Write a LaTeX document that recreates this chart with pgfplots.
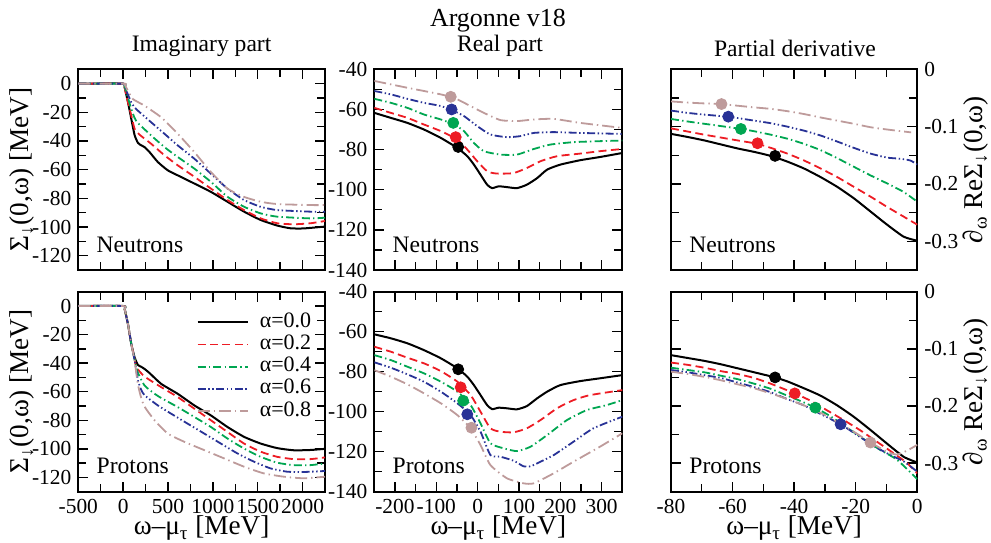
\documentclass[border=0pt]{standalone}
\usepackage{pgfplots}
\pgfplotsset{compat=1.18}
\usepackage{fontspec}
\setmainfont{Liberation Serif}
\definecolor{cR}{RGB}{237,28,36}
\definecolor{cG}{RGB}{0,166,81}
\definecolor{cB}{RGB}{40,50,150}
\definecolor{cP}{RGB}{190,155,155}
\newcommand{\lblfont}{\fontsize{13.6}{15}\selectfont}
\pgfplotsset{
  base/.style={scale only axis, axis line style={line width=0.9pt},
    tick style={line width=0.7pt, black}, major tick length=5pt, minor tick length=4pt,
    tick align=inside, xtick pos=both, ytick pos=both,
    ticklabel style={font=\fontsize{10.7}{12}\selectfont},
    xticklabel style={inner sep=0pt}, xticklabel shift=3.6pt,
    /pgf/number format/assume math mode=true, /pgf/number format/1000 sep={},
    minor x tick num=1, minor y tick num=1},
  imag/.style={base, width=123.35pt, xmin=-500, xmax=2250, ymin=-130, ymax=10,
    xtick={-500,0,500,1000,1500,2000}, ytick={-120,-100,-80,-60,-40,-20,0},
    every axis y label/.style={at={(axis description cs:-0.228,0.5)}, rotate=90, anchor=center, font=\lblfont},
    ylabel={Σ\textsubscript{↓}(0,ω) [MeV]}},
  real/.style={base, width=124pt, xmin=-250, xmax=350, ymin=-140, ymax=-40,
    xtick={-200,-100,0,100,200,300}, ytick={-140,-120,-100,-80,-60,-40}},
  deriv/.style={base, width=123.15pt, xmin=-80, xmax=0, ymin=-0.35, ymax=0,
    xtick={-80,-60,-40,-20,0}, ytick={-0.3,-0.2,-0.1,0}, yticklabel pos=right,
    /pgf/number format/fixed, /pgf/number format/precision=1,
    every axis y label/.style={at={(axis description cs:1.236,0.5)}, rotate=90, anchor=center, font=\lblfont},
    ylabel={∂\textsubscript{ω} ReΣ\textsubscript{↓}(0,ω)}},
  toprow/.style={height=100.35pt, xticklabel=\empty},
  botrow/.style={height=100pt,
    every axis x label/.style={at={(axis description cs:0.5,-0.216)}, anchor=base, inner sep=0pt, font=\lblfont},
    xlabel={ω–μ\textsubscript{τ} [MeV]}},
  s0/.style={black, line width=1pt, smooth, tension=0.35},
  s2/.style={cR, line width=0.9pt, dash pattern=on 4pt off 2.2pt, smooth, tension=0.35},
  s4/.style={cG, line width=0.9pt, dash pattern=on 4pt off 1.6pt on 0.7pt off 1.6pt, smooth, tension=0.35},
  s6/.style={cB, line width=0.9pt, dash pattern=on 4pt off 1.3pt on 0.7pt off 1.3pt on 0.7pt off 1.3pt, smooth, tension=0.35},
  s8/.style={cP, line width=0.9pt, dash pattern=on 6pt off 2pt on 0.7pt off 2pt, smooth, tension=0.35},
  dot/.style={only marks, mark=*, mark size=2.75pt, forget plot, mark options={draw=#1, fill=#1}},
}
\newcommand{\lbl}[1]{\node[anchor=base west, inner sep=0pt, font=\fontsize{11.8}{14}\selectfont, xshift=9pt, yshift=9pt] at (rel axis cs:0,0) {#1};}
\begin{document}
\begin{tikzpicture}
\useasboundingbox (0pt,0pt) rectangle (495.5pt,-271pt);
\node[anchor=base, inner sep=0pt, font=\fontsize{13}{15}\selectfont] at (249pt,-13.3pt) {Argonne v18};
\node[anchor=base, inner sep=0pt, font=\fontsize{11.8}{14}\selectfont] at (250pt,-25.8pt) {Real part};
\node[anchor=base, inner sep=0pt, font=\fontsize{11.8}{14}\selectfont] at (100.8pt,-25.8pt) {Imaginary part};
\node[anchor=base, inner sep=0pt, font=\fontsize{11.8}{14}\selectfont] at (397.5pt,-28pt) {Partial derivative};

% ---------------- Imaginary, neutrons
\begin{axis}[imag, toprow, at={(39.15pt,-34.65pt)}, anchor=north west]
\addplot[s0] coordinates {(-500,0) (0,0) (17,-2.7) (54,-13) (91,-24.7) (128,-36) (165,-41.3) (200,-43) (239,-44.3) (295,-47.8) (387,-54.7) (498,-60.5) (609,-64) (794,-69.7) (978,-75.5) (1163,-82.4) (1348,-89.3) (1533,-95.1) (1718,-99) (1865,-100.9) (2013,-101) (2250,-99.7)};
\addplot[s2] coordinates {(-500,0) (0,0) (10,-0.8) (36,-8.5) (91,-22.3) (128,-31.6) (165,-34.5) (200,-36.5) (313,-42) (461,-50) (609,-57) (794,-65) (978,-73.2) (1163,-81.2) (1348,-88.2) (1533,-94) (1718,-97.4) (1902,-98.1) (2087,-97.4) (2250,-95.8)};
\addplot[s4] coordinates {(-500,0) (0,0) (10,-0.6) (36,-6.2) (91,-17.7) (128,-24) (165,-27.5) (313,-36.2) (461,-44.3) (609,-51.2) (794,-59.3) (978,-68.5) (1163,-78.9) (1348,-85.9) (1533,-90.5) (1718,-92.8) (2087,-94) (2250,-93.5)};
\addplot[s6] coordinates {(-500,0) (0,0) (10,-0.5) (36,-5) (91,-13.1) (128,-16.5) (165,-18.9) (313,-27) (461,-35) (609,-43.1) (794,-52.4) (978,-62.8) (1163,-73.2) (1348,-81.2) (1533,-85.9) (1718,-88.2) (2087,-89.3) (2250,-89.3)};
\addplot[s8] coordinates {(-500,0) (0,0) (15,-0.5) (54,-5) (110,-10.8) (239,-15.4) (424,-23.5) (609,-35) (794,-47.8) (978,-61.6) (1163,-73.2) (1348,-79) (1533,-82.4) (1718,-84) (2087,-84.7) (2250,-84.7)};
\lbl{Neutrons}
\end{axis}

% ---------------- Real, neutrons
\begin{axis}[real, toprow, at={(187.15pt,-34.65pt)}, anchor=north west]
\addplot[s0] coordinates {(-250,-61.7) (-210,-64.2) (-170,-66.7) (-130,-70) (-89,-74.2) (-49,-79.2) (-25,-83.3) (-9,-87.5) (7,-92.5) (23,-97.5) (35,-99.2) (51,-98.3) (71,-98.7) (95,-99.2) (119,-97.5) (144,-94.2) (168,-90) (200,-87.5) (248,-85.3) (296,-83.7) (350,-81.7)};
\addplot[s2] coordinates {(-250,-59.2) (-210,-61.7) (-170,-64.2) (-130,-67.5) (-89,-70.8) (-49,-75) (-25,-80) (-1,-85.8) (23,-90.8) (40,-91.8) (55,-92) (87,-91.7) (119,-89.2) (152,-85.8) (192,-83.3) (248,-82) (296,-80.8) (350,-79.7)};
\addplot[s4] coordinates {(-250,-54.7) (-210,-56.7) (-170,-59.2) (-130,-62.5) (-89,-65) (-57,-67.5) (-33,-70.8) (-9,-76.7) (15,-80.8) (55,-82.5) (95,-82.5) (136,-79.7) (176,-77.5) (232,-76.3) (296,-75.8) (350,-75.5)};
\addplot[s6] coordinates {(-250,-50.8) (-210,-52.5) (-170,-54.7) (-130,-56.7) (-89,-58.3) (-57,-60.8) (-33,-63.3) (-1,-68.3) (31,-72.5) (71,-73.8) (103,-73.3) (136,-71.7) (184,-71.3) (248,-71.7) (350,-72.2)};
\addplot[s8] coordinates {(-250,-45.8) (-210,-47.5) (-170,-49.2) (-130,-50.8) (-89,-52.5) (-57,-54.2) (-25,-57.5) (15,-61.7) (55,-65.3) (95,-65.8) (136,-65) (184,-64.7) (248,-66.7) (350,-69.2)};
\addplot[dot=black] coordinates {(-47,-78.7)};
\addplot[dot=cR] coordinates {(-53,-73.8)};
\addplot[dot=cG] coordinates {(-59,-66.7)};
\addplot[dot=cB] coordinates {(-63,-60)};
\addplot[dot=cP] coordinates {(-65,-53.7)};
\lbl{Neutrons}
\end{axis}

% ---------------- Derivative, neutrons
\begin{axis}[deriv, toprow, at={(335.5pt,-34.65pt)}, anchor=north west]
\addplot[s0] coordinates {(-80,-0.1126) (-74.6,-0.118) (-69.2,-0.124) (-63.8,-0.131) (-58.4,-0.138) (-53,-0.144) (-47.6,-0.151) (-42.2,-0.161) (-36.8,-0.173) (-31.4,-0.188) (-26,-0.205) (-20.6,-0.225) (-15.2,-0.248) (-9.8,-0.271) (-4.4,-0.292) (0,-0.299)};
\addplot[s2] coordinates {(-80,-0.103) (-74.6,-0.1085) (-69.2,-0.114) (-63.8,-0.119) (-58.4,-0.124) (-51.9,-0.130) (-47.6,-0.137) (-42.2,-0.147) (-36.8,-0.159) (-31.4,-0.173) (-26,-0.188) (-20.6,-0.205) (-15.2,-0.222) (-9.8,-0.240) (-4.4,-0.257) (0,-0.271)};
\addplot[s4] coordinates {(-80,-0.0866) (-74.6,-0.091) (-69.2,-0.095) (-63.8,-0.099) (-57.3,-0.104) (-53,-0.108) (-47.6,-0.114) (-42.2,-0.121) (-36.8,-0.130) (-31.4,-0.141) (-26,-0.155) (-20.6,-0.170) (-15.2,-0.185) (-9.8,-0.199) (-4.4,-0.214) (0,-0.231)};
\addplot[s6] coordinates {(-80,-0.072) (-74.6,-0.076) (-69.2,-0.079) (-61.6,-0.0826) (-58.4,-0.085) (-53,-0.0895) (-47.6,-0.094) (-42.2,-0.100) (-36.8,-0.107) (-31.4,-0.1155) (-26,-0.126) (-20.6,-0.137) (-15.2,-0.147) (-9.8,-0.154) (-5.5,-0.156) (-2.3,-0.159) (0,-0.166)};
\addplot[s8] coordinates {(-80,-0.056) (-74.6,-0.058) (-69.2,-0.0595) (-63.6,-0.0606) (-58.4,-0.0635) (-53,-0.0664) (-47.6,-0.069) (-42.2,-0.073) (-36.8,-0.078) (-31.4,-0.084) (-26,-0.0895) (-20.6,-0.095) (-15.2,-0.101) (-9.8,-0.105) (-2,-0.110)};
\addplot[dot=black] coordinates {(-46.2,-0.151)};
\addplot[dot=cR] coordinates {(-51.9,-0.129)};
\addplot[dot=cG] coordinates {(-57.3,-0.104)};
\addplot[dot=cB] coordinates {(-61.4,-0.0826)};
\addplot[dot=cP] coordinates {(-63.6,-0.0606)};
\lbl{Neutrons}
\end{axis}

% ---------------- Imaginary, protons
\begin{axis}[imag, botrow, at={(39.15pt,-145.85pt)}, anchor=north west,
  legend cell align=left,
  legend image code/.code={\draw[#1] (0pt,0pt) -- (25pt,0pt);},
  legend style={draw=none, fill=none, at={(0.975,0.925)}, anchor=north east,
    font=\fontsize{11}{12}\selectfont, row sep=0pt,
    nodes={inner sep=0.6pt, text height=7.5pt, text depth=2.4pt},
    /tikz/every odd column/.append style={column sep=5pt}}]
\addplot[s0] coordinates {(-500,0) (0,0) (17,-2.3) (54,-12.8) (91,-26.7) (128,-36) (165,-41.3) (200,-42.5) (239,-44.1) (295,-47) (424,-54.5) (609,-61.5) (794,-69.6) (978,-76.6) (1163,-84.7) (1348,-91.6) (1533,-96.3) (1718,-99.5) (1902,-101) (2087,-100.8) (2250,-100)};
\addplot[s2] coordinates {(-500,0) (0,0) (17,-2.3) (54,-12.8) (91,-26.7) (128,-37) (147,-42.9) (239,-49.4) (424,-56.8) (609,-63.8) (794,-71.9) (978,-80) (1163,-88.2) (1348,-96.3) (1533,-102) (1718,-105.6) (1902,-107.2) (2087,-107.2) (2250,-106)};
\addplot[s4] coordinates {(-500,0) (0,0) (17,-2.3) (54,-12.8) (91,-26.7) (128,-37.5) (160,-46) (239,-55.7) (387,-63) (609,-70.8) (794,-77.7) (978,-84.7) (1163,-92.8) (1348,-99.8) (1533,-105.6) (1718,-109.7) (1902,-111.4) (2087,-111.4) (2250,-110.2)};
\addplot[s6] coordinates {(-500,0) (0,0) (17,-2.3) (54,-12.8) (91,-26.7) (128,-38) (165,-52) (200,-58.5) (239,-62.5) (387,-69.6) (535,-75.4) (720,-82.4) (904,-89.3) (1089,-96.3) (1274,-103.2) (1459,-109) (1644,-113.7) (1829,-116) (2013,-116.2) (2250,-115.5)};
\addplot[s8] coordinates {(-500,0) (0,0) (17,-2.3) (54,-12.8) (91,-26.7) (128,-38.5) (165,-55) (200,-64) (239,-70.5) (350,-80) (498,-89.3) (683,-95.1) (904,-100.9) (1126,-106.7) (1348,-112.5) (1570,-117.2) (1792,-119.5) (2013,-120.6) (2250,-119.5)};
\legend{α=0.0, α=0.2, α=0.4, α=0.6, α=0.8}
\lbl{Protons}
\end{axis}

% ---------------- Real, protons
\begin{axis}[real, botrow, at={(187.15pt,-145.85pt)}, anchor=north west]
\addplot[s0] coordinates {(-250,-61.3) (-210,-63.3) (-170,-65.8) (-130,-69.2) (-89,-73.3) (-49,-78.3) (-25,-82.5) (-9,-86.7) (7,-91.7) (23,-96.7) (35,-98.7) (51,-98) (71,-98.3) (95,-98.8) (119,-97.2) (144,-93.3) (168,-90) (200,-86.7) (248,-84.7) (296,-83.3) (350,-81.7)};
\addplot[s2] coordinates {(-250,-67.5) (-210,-70) (-170,-73) (-130,-75.8) (-89,-79.7) (-49,-85) (-17,-91.7) (7,-100) (31,-108.3) (55,-110) (87,-110.3) (119,-108.3) (152,-104.2) (192,-98.3) (232,-94.2) (272,-91.7) (350,-89.2)};
\addplot[s4] coordinates {(-250,-71.7) (-210,-74.2) (-170,-77.5) (-130,-80.8) (-89,-85) (-49,-90) (-17,-96.7) (7,-105.8) (31,-115.8) (63,-118.3) (95,-119.7) (128,-117.5) (168,-111.7) (216,-104.2) (264,-99.2) (312,-96.7) (350,-94.2)};
\addplot[s6] coordinates {(-250,-75.3) (-210,-78) (-170,-81.3) (-130,-85) (-89,-90) (-49,-95.8) (-17,-101.7) (7,-110) (31,-121.7) (55,-122.5) (87,-124.5) (111,-127.3) (128,-127.3) (152,-125) (184,-121.7) (232,-115) (280,-108.3) (350,-102.5)};
\addplot[s8] coordinates {(-250,-79.2) (-210,-82.5) (-170,-86.3) (-130,-90.8) (-89,-95.8) (-49,-101.7) (-17,-108.3) (7,-116.7) (31,-126.7) (71,-133.3) (111,-135.8) (136,-135.8) (184,-130.8) (232,-125) (296,-117.5) (350,-110.8)};
\addplot[dot=black] coordinates {(-47,-78.8)};
\addplot[dot=cR] coordinates {(-41,-87.8)};
\addplot[dot=cG] coordinates {(-35,-94.5)};
\addplot[dot=cB] coordinates {(-25,-101.3)};
\addplot[dot=cP] coordinates {(-15,-108)};
\lbl{Protons}
\end{axis}

% ---------------- Derivative, protons
\begin{axis}[deriv, botrow, at={(335.5pt,-145.85pt)}, anchor=north west]
\addplot[s0] coordinates {(-80,-0.111) (-74.6,-0.116) (-69.2,-0.121) (-63.8,-0.127) (-58.4,-0.134) (-53,-0.141) (-46.2,-0.150) (-42.2,-0.157) (-36.8,-0.169) (-31.4,-0.182) (-26,-0.199) (-20.6,-0.219) (-15.2,-0.242) (-9.8,-0.266) (-4.4,-0.289) (0,-0.299)};
\addplot[s2] coordinates {(-80,-0.124) (-74.6,-0.128) (-69.2,-0.133) (-63.8,-0.139) (-58.4,-0.144) (-53,-0.151) (-47.6,-0.161) (-39.8,-0.178) (-34.6,-0.191) (-29.2,-0.208) (-23.8,-0.225) (-18.4,-0.243) (-13,-0.263) (-7.6,-0.283) (-3.3,-0.300) (0,-0.318)};
\addplot[s4] coordinates {(-80,-0.133) (-74.6,-0.137) (-69.2,-0.141) (-63.8,-0.147) (-58.4,-0.153) (-53,-0.161) (-47.6,-0.170) (-42.2,-0.182) (-37.6,-0.192) (-33.1,-0.203) (-28.2,-0.218) (-22.8,-0.238) (-17.4,-0.258) (-12,-0.277) (-6.6,-0.294) (0,-0.328)};
\addplot[s6] coordinates {(-80,-0.137) (-74.6,-0.141) (-69.2,-0.146) (-63.8,-0.151) (-58.4,-0.159) (-53,-0.167) (-47.6,-0.176) (-42.2,-0.188) (-36.8,-0.199) (-31.4,-0.214) (-24.9,-0.232) (-19.5,-0.251) (-14.1,-0.270) (-8.7,-0.286) (-4.4,-0.297) (0,-0.315)};
\addplot[s8] coordinates {(-80,-0.140) (-74.6,-0.144) (-69.2,-0.149) (-63.8,-0.155) (-58.4,-0.162) (-53,-0.169) (-47.6,-0.178) (-42.2,-0.188) (-36.8,-0.199) (-31.4,-0.212) (-26,-0.228) (-20.6,-0.245) (-15.2,-0.264) (-9.8,-0.280) (-6.6,-0.285) (-3.3,-0.278) (0,-0.268)};
\addplot[dot=black] coordinates {(-46.2,-0.150)};
\addplot[dot=cR] coordinates {(-39.8,-0.178)};
\addplot[dot=cG] coordinates {(-33.1,-0.203)};
\addplot[dot=cB] coordinates {(-24.9,-0.232)};
\addplot[dot=cP] coordinates {(-15.2,-0.264)};
\lbl{Protons}
\end{axis}
\end{tikzpicture}
\end{document}
